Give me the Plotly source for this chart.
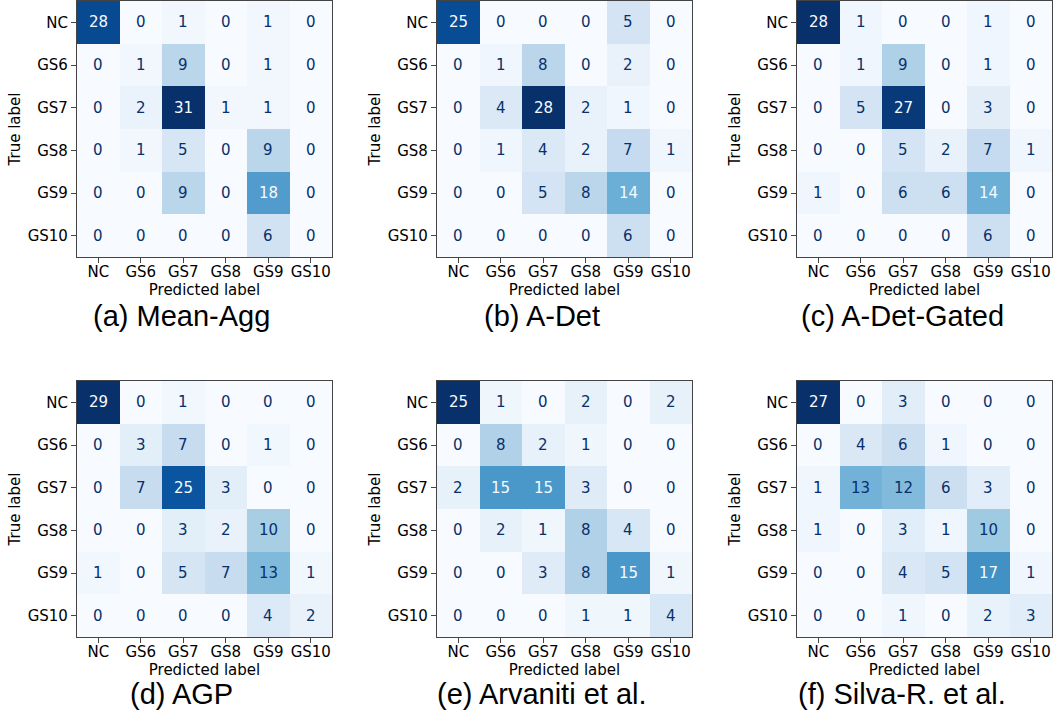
import plotly.graph_objects as go

# Class labels shared by every confusion matrix (rows = true, cols = predicted)
labels = ["NC", "GS6", "GS7", "GS8", "GS9", "GS10"]

mean_agg = [[28, 0, 1, 0, 1, 0],
            [0, 1, 9, 0, 1, 0],
            [0, 2, 31, 1, 1, 0],
            [0, 1, 5, 0, 9, 0],
            [0, 0, 9, 0, 18, 0],
            [0, 0, 0, 0, 6, 0]]

a_det = [[25, 0, 0, 0, 5, 0],
         [0, 1, 8, 0, 2, 0],
         [0, 4, 28, 2, 1, 0],
         [0, 1, 4, 2, 7, 1],
         [0, 0, 5, 8, 14, 0],
         [0, 0, 0, 0, 6, 0]]

a_det_gated = [[28, 1, 0, 0, 1, 0],
               [0, 1, 9, 0, 1, 0],
               [0, 5, 27, 0, 3, 0],
               [0, 0, 5, 2, 7, 1],
               [1, 0, 6, 6, 14, 0],
               [0, 0, 0, 0, 6, 0]]

agp = [[29, 0, 1, 0, 0, 0],
       [0, 3, 7, 0, 1, 0],
       [0, 7, 25, 3, 0, 0],
       [0, 0, 3, 2, 10, 0],
       [1, 0, 5, 7, 13, 1],
       [0, 0, 0, 0, 4, 2]]

arvaniti = [[25, 1, 0, 2, 0, 2],
            [0, 8, 2, 1, 0, 0],
            [2, 15, 15, 3, 0, 0],
            [0, 2, 1, 8, 4, 0],
            [0, 0, 3, 8, 15, 1],
            [0, 0, 0, 1, 1, 4]]

silva = [[27, 0, 3, 0, 0, 0],
         [0, 4, 6, 1, 0, 0],
         [1, 13, 12, 6, 3, 0],
         [1, 0, 3, 1, 10, 0],
         [0, 0, 4, 5, 17, 1],
         [0, 0, 1, 0, 2, 3]]

matrices = [mean_agg, a_det, a_det_gated, agp, arvaniti, silva]
captions = ["(a) Mean-Agg", "(b) A-Det", "(c) A-Det-Gated",
            "(d) AGP", "(e) Arvaniti et al.", "(f) Silva-R. et al."]

# Matplotlib "Blues" colour map
blues_hex = ["#f7fbff", "#deebf7", "#c6dbef", "#9ecae1", "#6baed6",
             "#4292c6", "#2171b5", "#08519c", "#08306b"]
blues = [[i / (len(blues_hex) - 1), c] for i, c in enumerate(blues_hex)]

W, H = 1054, 715
col_left = [77, 437, 797]
row_top = [1, 381]
pw, ph = 255, 256
caption_x = [181, 542, 902]
caption_y = [316, 694]

tick_font = dict(family="DejaVu Sans", size=15, color="black")

fig = go.Figure()
annotations = []
layout_axes = {}

for k, (cm, cap) in enumerate(zip(matrices, captions)):
    r, c = divmod(k, 3)
    n = k + 1
    xa = "x" if n == 1 else f"x{n}"
    ya = "y" if n == 1 else f"y{n}"
    zmax = max(max(row) for row in cm)
    zmin = min(min(row) for row in cm)
    thresh = (zmax + zmin) / 2.0

    fig.add_trace(go.Heatmap(
        z=cm, x=labels, y=labels, xaxis=xa, yaxis=ya,
        colorscale=blues, zmin=zmin, zmax=zmax, showscale=False,
        hoverinfo="skip",
    ))

    for i, row in enumerate(cm):
        for j, v in enumerate(row):
            annotations.append(dict(
                x=labels[j], y=labels[i], xref=xa, yref=ya,
                text=str(v), showarrow=False,
                font=dict(family="DejaVu Sans", size=15,
                          color=blues_hex[0] if v >= thresh else blues_hex[-1]),
            ))

    x0 = col_left[c] / W
    x1 = (col_left[c] + pw) / W
    y1 = 1 - row_top[r] / H
    y0 = 1 - (row_top[r] + ph) / H

    axis_common = dict(
        showgrid=False, zeroline=False, showline=True, mirror=True,
        linecolor="#444", linewidth=1.2, ticks="outside", ticklen=5,
        tickwidth=1.2, tickcolor="#444", tickfont=tick_font, fixedrange=True,
    )
    layout_axes["xaxis" if n == 1 else f"xaxis{n}"] = dict(
        axis_common, domain=[x0, x1], anchor=ya,
        type="category", categoryorder="array", categoryarray=labels,
        ticklabelstandoff=-4,
        title=dict(text="Predicted label", font=tick_font, standoff=0),
    )
    layout_axes["yaxis" if n == 1 else f"yaxis{n}"] = dict(
        axis_common, domain=[y0, y1], anchor=xa,
        type="category", categoryorder="array", categoryarray=labels,
        autorange="reversed",
        title=dict(text="True label", font=tick_font, standoff=3),
    )

    annotations.append(dict(
        x=caption_x[c] / W, y=1 - caption_y[r] / H, xref="paper", yref="paper",
        text=cap, showarrow=False, xanchor="center", yanchor="middle",
        font=dict(family="Liberation Sans, Arial, sans-serif", size=29, color="black"),
    ))

fig.update_layout(
    width=W, height=H,
    margin=dict(l=0, r=0, t=0, b=0),
    paper_bgcolor="white", plot_bgcolor="white",
    showlegend=False,
    annotations=annotations,
    **layout_axes,
)

fig.write_html("out.html", config={"displayModeBar": False})
